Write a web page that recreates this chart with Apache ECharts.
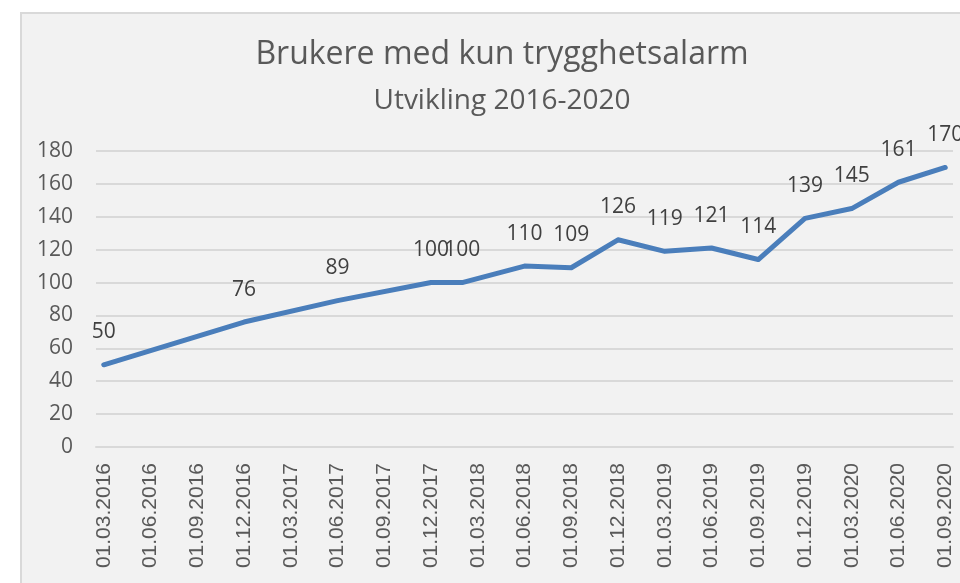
<!DOCTYPE html>
<html>
<head>
<meta charset="utf-8">
<script src="https://cdn.jsdelivr.net/npm/echarts@6/dist/echarts.min.js"></script>
<style>
  html, body { margin: 0; padding: 0; background: #ffffff; overflow: hidden; }
  #chart {
    position: absolute; left: 20px; top: 12px;
    width: 960px; height: 600px;
    background: #f2f2f2;
    border-top: 2px solid #d9d9d9; border-left: 2px solid #d9d9d9;
  }
</style>
</head>
<body>
<div id="chart"></div>
<script>
// months on the axis: 01.03.2016 .. 01.09.2020
const startYear = 2016, startMonth = 3, monthCount = 55;
const months = [];
for (let i = 0; i < monthCount; i++) {
  const m = (startMonth - 1 + i) % 12 + 1;
  const y = startYear + Math.floor((startMonth - 1 + i) / 12);
  months.push('01.' + String(m).padStart(2, '0') + '.' + y);
}

// registered points
const pointDates = ['01.03.2016', '01.12.2016', '01.06.2017', '01.12.2017', '01.02.2018',
  '01.06.2018', '01.09.2018', '01.12.2018', '01.03.2019', '01.06.2019', '01.09.2019',
  '01.12.2019', '01.03.2020', '01.06.2020', '01.09.2020'];
const pointValues = [50, 76, 89, 100, 100, 110, 109, 126, 119, 121, 114, 139, 145, 161, 170];

const chart = echarts.init(document.getElementById('chart'));

const option = {
  animation: false,
  title: [
    {
      text: 'Brukere med kun trygghetsalarm',
      left: 'center',
      top: 20,
      textStyle: { fontFamily: 'Open Sans', fontSize: 32, fontWeight: 'normal', color: '#595959' }
    },
    {
      text: 'Utvikling 2016-2020',
      left: 'center',
      top: 68,
      textStyle: { fontFamily: 'Open Sans', fontSize: 28, fontWeight: 'normal', color: '#595959' }
    }
  ],
  grid: { left: 74, top: 137, width: 857, height: 296 },
  xAxis: {
    type: 'category',
    data: months,
    boundaryGap: true,
    axisLine: { lineStyle: { color: '#d9d9d9', width: 2 } },
    axisTick: { interval: 2, length: 7, lineStyle: { color: '#d9d9d9', width: 2 } },
    axisLabel: {
      interval: 2,
      rotate: 90,
      margin: 16,
      fontFamily: 'Liberation Sans',
      fontSize: 21,
      color: '#595959'
    }
  },
  yAxis: {
    type: 'value',
    min: 0,
    max: 180,
    interval: 20,
    axisLine: { show: false },
    axisTick: { show: false },
    splitLine: { lineStyle: { color: '#d9d9d9', width: 2 } },
    axisLabel: { margin: 23, fontFamily: 'Open Sans', fontSize: 21, color: '#595959' }
  },
  series: [{
    type: 'line',
    data: pointDates.map((d, i) => [d, pointValues[i]]),
    showSymbol: true,
    symbol: 'circle',
    symbolSize: 4,
    itemStyle: { color: '#4a7ebb', borderWidth: 0 },
    lineStyle: { color: '#4a7ebb', width: 5, cap: 'round', join: 'round' },
    label: {
      show: true,
      position: 'top',
      distance: 20,
      fontFamily: 'Open Sans',
      fontSize: 21,
      color: '#404040',
      formatter: p => String(p.value[1])
    },
    labelLayout: { hideOverlap: false }
  }]
};

chart.setOption(option);
</script>
</body>
</html>
